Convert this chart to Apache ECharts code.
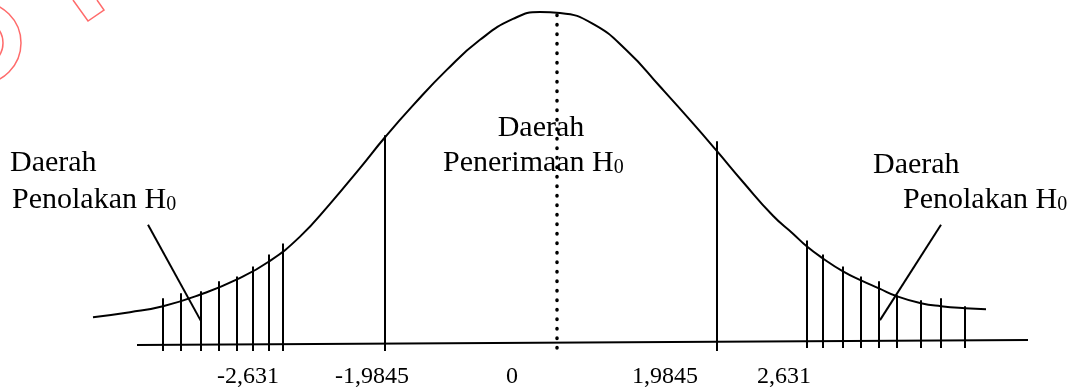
<!DOCTYPE html>
<html>
<head>
<meta charset="utf-8">
<script src="https://cdn.jsdelivr.net/npm/echarts@6/dist/echarts.min.js"></script>
<style>
  html, body { margin: 0; padding: 0; background: #fff; }
  #chart { width: 1074px; height: 389px; }
</style>
</head>
<body>
<div id="chart"></div>
<script>
// horizontal position along the axis and height of the curve above the axis
const curveX = [93, 130, 163, 201, 237, 269, 300, 330, 360, 385, 413, 447, 480, 513, 540, 560, 593, 627, 660, 693, 717, 743, 773, 793, 807, 823, 843, 861, 879, 897, 921, 941, 965, 986];
const curveH = [26, 31, 37, 49, 64, 82, 107, 140, 176, 207, 239, 275, 305, 326, 333, 332, 321, 294, 258, 221, 193, 162, 128, 110, 97, 85, 72, 63, 55, 47, 40, 37, 35, 34];

// rejection region hatching
const hatchLeftX = [163, 181, 201, 219, 237, 253, 269, 283];
const hatchLeftH = [45, 50, 52, 62, 67, 77, 89, 100];
const hatchRightX = [807, 823, 843, 861, 879, 897, 921, 941, 965];
const hatchRightH = [103, 89, 77, 67, 62, 48, 43, 45, 37];

// critical value lines (-1,9845 and 1,9845)
const critX = [385, 717];
const critH = [209, 203];

// centre (dotted) line
const meanX = 557;
const meanH = 330;

// baseline: [x1, h1, x2, h2]
const baseLine = [137, -2, 1028, 3];

// tick labels under the axis
const tickLabels = ['-2,631', '-1,9845', '0', '1,9845', '2,631'];
const tickLabelX = [248, 372, 512, 665, 784];

// leader lines from the side labels to the tails: [x1, h1, x2, h2]
const leaders = [
  [148, 119, 201, 22],
  [941, 119, 880, 23]
];

const FONT = "'Liberation Serif', 'Times New Roman', serif";
const tickDepth = 8;

const chart = echarts.init(document.getElementById('chart'));

function segItem(params, api) {
  const p1 = api.coord([api.value(0), api.value(1)]);
  const p2 = api.coord([api.value(2), api.value(3)]);
  return {
    type: 'line',
    shape: { x1: p1[0], y1: p1[1], x2: p2[0], y2: p2[1] },
    style: { stroke: '#000', lineWidth: 2 }
  };
}

const segments = [baseLine];
hatchLeftX.forEach((x, i) => segments.push([x, -tickDepth, x, hatchLeftH[i]]));
hatchRightX.forEach((x, i) => segments.push([x, -tickDepth + 3, x, hatchRightH[i]]));
critX.forEach((x, i) => segments.push([x, -tickDepth, x, critH[i]]));
leaders.forEach(l => segments.push(l));

function label(x, y, main, sub, align) {
  const text = sub ? `{m|${main}}{s|${sub}}` : `{m|${main}}`;
  return {
    type: 'text',
    x: x,
    y: y,
    silent: true,
    style: {
      text: text,
      align: align || 'left',
      verticalAlign: 'top',
      fill: '#000',
      rich: {
        m: { fontFamily: FONT, fontSize: 30, lineHeight: 30, padding: [0, 0, 5, 0], verticalAlign: 'top', color: '#000' },
        s: { fontFamily: FONT, fontSize: 20, lineHeight: 20, verticalAlign: 'bottom', color: '#000' }
      }
    }
  };
}

const option = {
  animation: false,
  backgroundColor: '#fff',
  grid: { left: 93, right: 46, top: 11, bottom: 44 },
  xAxis: {
    type: 'value',
    min: 93,
    max: 1028,
    axisLine: { show: false },
    axisTick: { show: false },
    splitLine: { show: false },
    axisLabel: {
      customValues: tickLabelX,
      formatter: v => tickLabels[tickLabelX.indexOf(v)],
      margin: 22,
      color: '#000',
      fontSize: 24,
      fontFamily: FONT
    }
  },
  yAxis: {
    type: 'value',
    min: 0,
    max: 334,
    show: false
  },
  series: [
    {
      type: 'line',
      data: curveX.map((x, i) => [x, curveH[i]]),
      smooth: 0.5,
      showSymbol: false,
      clip: false,
      lineStyle: { color: '#000', width: 2 }
    },
    {
      type: 'custom',
      clip: false,
      renderItem: segItem,
      data: segments
    },
    {
      type: 'line',
      data: [[meanX, meanH], [meanX, -10]],
      showSymbol: false,
      clip: false,
      lineStyle: { color: '#000', width: 3.5, type: [0.5, 9], cap: 'round' }
    }
  ],
  graphic: [
    label(10, 148, 'Daerah'),
    label(12, 185, 'Penolakan H', '0'),
    label(541, 113, 'Daerah', null, 'center'),
    label(443, 148, 'Penerimaan H', '0'),
    label(873, 150, 'Daerah'),
    label(903, 185, 'Penolakan H', '0'),
    // faint red stamp fragments in the top-left corner
    { type: 'circle', shape: { cx: -20, cy: 43, r: 41 }, style: { fill: 'none', stroke: '#ff6b6b', lineWidth: 1.5 } },
    { type: 'circle', shape: { cx: -20, cy: 43, r: 23 }, style: { fill: 'none', stroke: '#ff6b6b', lineWidth: 1.5 } },
    { type: 'polyline', shape: { points: [[73, 0], [88, 21], [104, 10], [97, 0]] }, style: { fill: 'none', stroke: '#ff6b6b', lineWidth: 1.5 } }
  ]
};

chart.setOption(option);
window.addEventListener('resize', () => chart.resize());
</script>
</body>
</html>
